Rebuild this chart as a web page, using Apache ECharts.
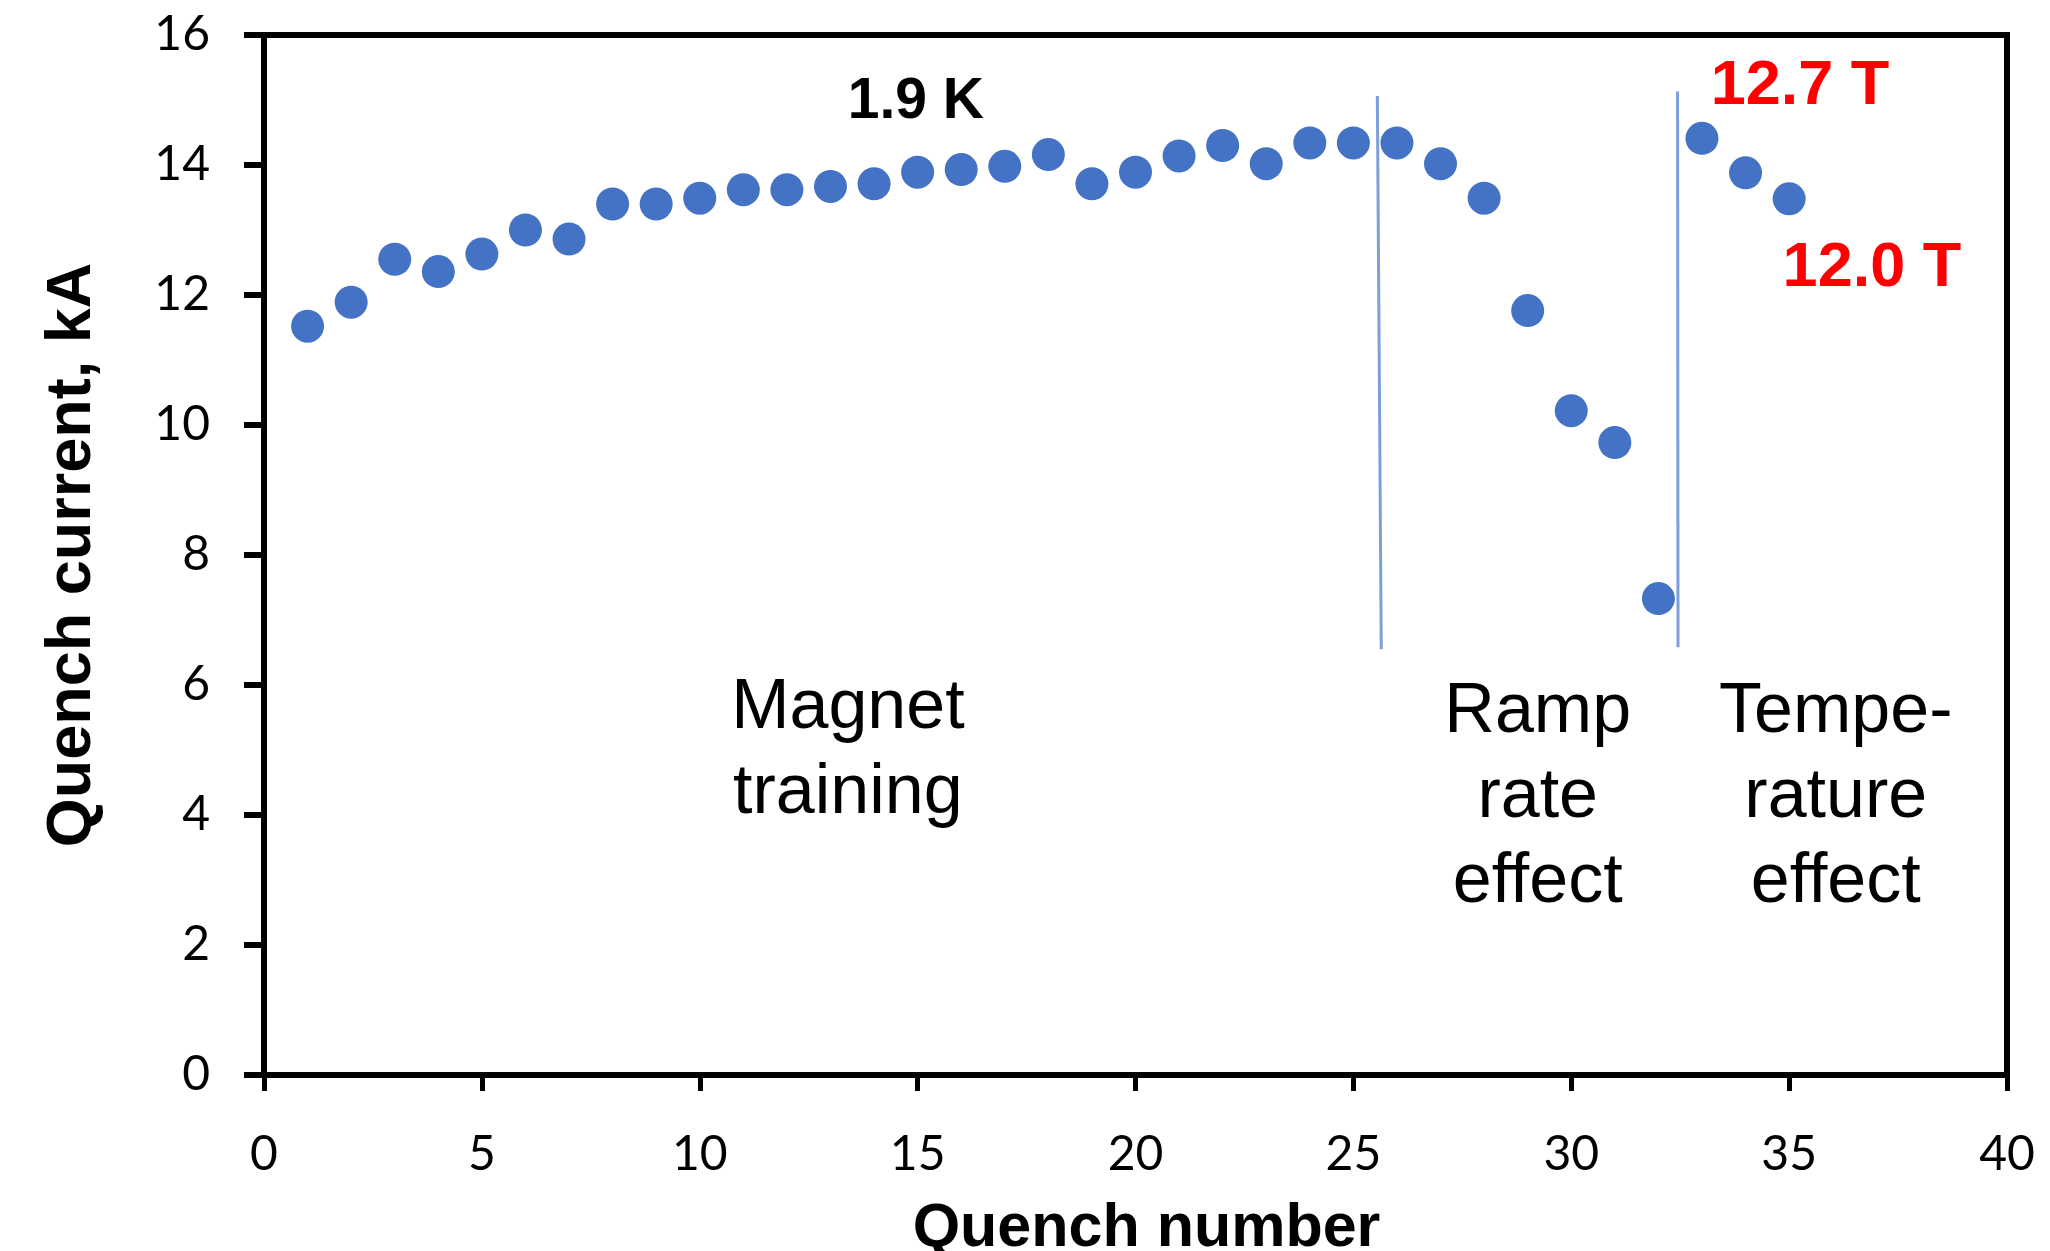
<!DOCTYPE html>
<html>
<head>
<meta charset="utf-8">
<script src="https://cdn.jsdelivr.net/npm/echarts@6/dist/echarts.min.js"></script>
<style>
  html, body { margin: 0; padding: 0; background: #fff; }
  #chart { width: 2050px; height: 1251px; }
</style>
</head>
<body>
<div id="chart"></div>
<script>
// ---- data ----
const quenchNumbers = [1,2,3,4,5,6,7,8,9,10,11,12,13,14,15,16,17,18,19,20,21,22,23,24,25,26,27,28,29,30,31,32,33,34,35];
const quenchCurrents = [11.52,11.89,12.55,12.36,12.63,13.0,12.86,13.40,13.40,13.49,13.62,13.62,13.67,13.71,13.89,13.93,13.98,14.16,13.71,13.89,14.14,14.30,14.02,14.34,14.34,14.34,14.02,13.49,11.76,10.22,9.73,7.33,14.41,13.88,13.48];

// separator lines (x, y of both ends)
const separator1X = [25.55, 25.64];
const separator1Y = [15.06, 6.55];
const separator2X = [32.44, 32.45];
const separator2Y = [15.13, 6.58];

// annotation texts and their anchor (data coordinates)
const annotationTexts = ['1.9 K', '12.7 T', '12.0 T', 'Magnet\ntraining', 'Ramp\nrate\neffect', 'Tempe-\nrature\neffect'];
const annotationX = [14.96, 35.25, 36.9, 13.40, 29.23, 36.07];
const annotationY = [14.96, 15.20, 12.40, 4.975, 4.264, 4.264];

const xTickValues = [0, 5, 10, 15, 20, 25, 30, 35, 40];
const yTickValues = [0, 2, 4, 6, 8, 10, 12, 14, 16];
const xAxisTitle = 'Quench number';
const yAxisTitle = 'Quench current, kA';

// ---- build chart ----
const annotationStyles = [
  { fontFamily: '"Liberation Sans Narrow", "Liberation Sans", Arial, sans-serif', fontWeight: 'bold', fontSize: 57, color: '#000' },
  { fontFamily: '"Liberation Sans", Arial, sans-serif', fontWeight: 'bold', fontSize: 63, color: '#ff0000' },
  { fontFamily: '"Liberation Sans", Arial, sans-serif', fontWeight: 'bold', fontSize: 63, color: '#ff0000' },
  { fontFamily: '"Liberation Sans", Arial, sans-serif', fontWeight: 'normal', fontSize: 70, lineHeight: 85, color: '#000' },
  { fontFamily: '"Liberation Sans", Arial, sans-serif', fontWeight: 'normal', fontSize: 70, lineHeight: 85, color: '#000' },
  { fontFamily: '"Liberation Sans", Arial, sans-serif', fontWeight: 'normal', fontSize: 70, lineHeight: 85, color: '#000' }
];

const chart = echarts.init(document.getElementById('chart'), null, { renderer: 'canvas' });

const tickFont = { fontFamily: 'Lato, "Noto Sans", sans-serif', fontSize: 48, color: '#000' };
const titleFont = { fontFamily: '"Liberation Sans", Arial, sans-serif', fontWeight: 'bold', color: '#000' };

chart.setOption({
  animation: false,
  backgroundColor: '#ffffff',
  grid: {
    left: 264, right: 43, top: 35, bottom: 176,
    containLabel: false, outerBoundsMode: 'none',
    show: true, borderColor: '#000', borderWidth: 6, backgroundColor: 'transparent'
  },
  xAxis: {
    type: 'value', min: xTickValues[0], max: xTickValues[xTickValues.length - 1],
    interval: xTickValues[1] - xTickValues[0],
    name: xAxisTitle, nameLocation: 'middle', nameGap: 124,
    nameTextStyle: Object.assign({ fontSize: 61, padding: [0, 0, 0, 22] }, titleFont),
    axisLine: { show: true, onZero: false, lineStyle: { color: '#000', width: 6 } },
    axisTick: { show: true, inside: false, length: 16, lineStyle: { color: '#000', width: 5 } },
    axisLabel: Object.assign({ margin: 56 }, tickFont),
    splitLine: { show: false }
  },
  yAxis: {
    type: 'value', min: yTickValues[0], max: yTickValues[yTickValues.length - 1],
    interval: yTickValues[1] - yTickValues[0],
    name: yAxisTitle, nameLocation: 'middle', nameGap: 160,
    nameTextStyle: Object.assign({ fontSize: 63 }, titleFont),
    axisLine: { show: true, onZero: false, lineStyle: { color: '#000', width: 6 } },
    axisTick: { show: true, inside: false, length: 20, lineStyle: { color: '#000', width: 6 } },
    axisLabel: Object.assign({ margin: 54 }, tickFont),
    splitLine: { show: false }
  },
  series: [
    {
      type: 'scatter',
      name: 'Quench current',
      data: quenchNumbers.map((n, i) => [n, quenchCurrents[i]]),
      symbol: 'circle', symbolSize: 33,
      itemStyle: { color: '#4472C4', opacity: 1 },
      z: 3
    },
    {
      type: 'line',
      data: separator1X.map((x, i) => [x, separator1Y[i]]),
      symbol: 'none',
      lineStyle: { color: '#7C9FDB', width: 3, opacity: 1 },
      z: 4
    },
    {
      type: 'line',
      data: separator2X.map((x, i) => [x, separator2Y[i]]),
      symbol: 'none',
      lineStyle: { color: '#7C9FDB', width: 3, opacity: 1 },
      z: 4
    },
    {
      type: 'scatter',
      data: annotationTexts.map((t, i) => ({
        value: [annotationX[i], annotationY[i]],
        label: Object.assign({
          show: true, position: 'inside', formatter: t,
          align: 'center', verticalAlign: 'middle'
        }, annotationStyles[i])
      })),
      symbolSize: 1,
      itemStyle: { color: 'rgba(0,0,0,0)', opacity: 1 },
      silent: true,
      z: 5
    }
  ]
});
</script>
</body>
</html>
